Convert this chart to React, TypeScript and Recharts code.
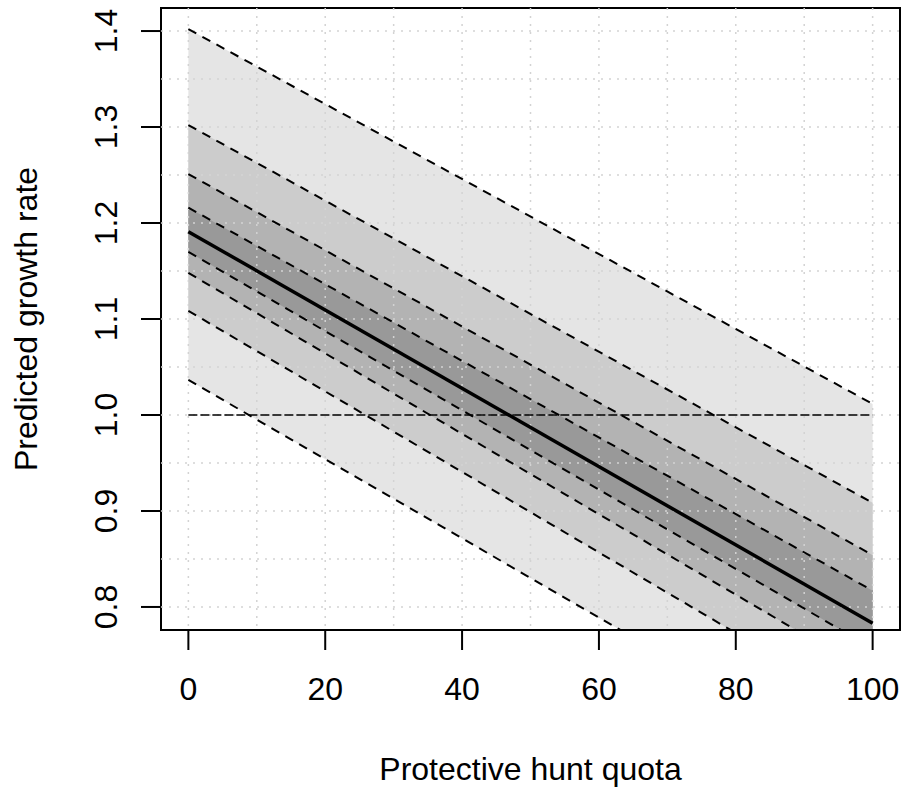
import {
  ComposedChart, Area, Line, XAxis, YAxis, CartesianGrid,
  ReferenceLine, ReferenceArea,
} from 'recharts'

// protective hunt quota (x) and predicted growth rate (y)
const quota = [0, 100]
const fit = [1.191, 0.783]

// interval bands, innermost (darkest) to outermost (lightest)
const darkLo = [1.170, 0.757]
const darkHi = [1.216, 0.817]
const midLo = [1.148, 0.729]
const midHi = [1.251, 0.854]
const lightLo = [1.1085, 0.689]
const lightHi = [1.302, 0.9085]
const outerLo = [1.0365, 0.624]
const outerHi = [1.402, 1.0115]

const xTicks = [0, 20, 40, 60, 80, 100]
const yTicks = [0.8, 0.9, 1.0, 1.1, 1.2, 1.3, 1.4]
const gridX = [0, 10, 20, 30, 40, 50, 60, 70, 80, 90, 100]
const gridY = [0.8, 0.85, 0.9, 0.95, 1.0, 1.05, 1.1, 1.15, 1.2, 1.25, 1.3, 1.35, 1.4]

const rows = quota.map((q, i) => ({
  quota: q,
  fit: fit[i],
  darkLo: darkLo[i], darkHi: darkHi[i],
  midLo: midLo[i], midHi: midHi[i],
  lightLo: lightLo[i], lightHi: lightHi[i],
  outerLo: outerLo[i], outerHi: outerHi[i],
  dark: [darkLo[i], darkHi[i]],
  mid: [midLo[i], midHi[i]],
  light: [lightLo[i], lightHi[i]],
  outer: [outerLo[i], outerHi[i]],
}))

// R style 4% padding on both axes
const xDomain = [-4, 104]
const yDomain = [0.8 - 0.024, 1.4 + 0.024]

const FONT = '"Liberation Sans", Arial, Helvetica, sans-serif'
const dash = '9 7'
const edgeKeys = ['outerHi', 'lightHi', 'midHi', 'darkHi', 'darkLo', 'midLo', 'lightLo', 'outerLo']

function YTick({ y, payload }: { y?: number; payload?: { value: number } }) {
  const bx = 117
  return (
    <text
      x={bx} y={y} transform={`rotate(-90 ${bx} ${y})`}
      textAnchor="middle" fontSize={32} fontFamily={FONT} fill="#000"
    >
      {payload!.value.toFixed(1)}
    </text>
  )
}

export default function App() {
  return (
    <div style={{ position: 'absolute', left: 0, top: 0, background: '#fff' }}>
      <ComposedChart
        width={903} height={787} data={rows}
        margin={{ top: 8, right: 3, bottom: 0, left: 0 }}
      >
        <XAxis
          type="number" dataKey="quota" domain={xDomain} ticks={xTicks}
          allowDataOverflow height={157}
          axisLine={false} tickSize={20} tickMargin={27}
          tickLine={{ stroke: '#000', strokeWidth: 2 }}
          tick={{ fill: '#000', fontSize: 32, fontFamily: FONT }}
          label={{
            content: () => (
              <text x={530.5} y={780} textAnchor="middle" fontSize={32} fontFamily={FONT} fill="#000">
                Protective hunt quota
              </text>
            ),
          }}
        />
        <YAxis
          type="number" domain={yDomain} ticks={yTicks}
          allowDataOverflow width={161}
          axisLine={false} tickSize={20}
          tickLine={{ stroke: '#000', strokeWidth: 2 }}
          tick={<YTick />}
          label={{
            content: () => (
              <text
                x={37} y={319} transform="rotate(-90 37 319)"
                textAnchor="middle" fontSize={32} fontFamily={FONT} fill="#000"
              >
                Predicted growth rate
              </text>
            ),
          }}
        />

        <Area type="linear" dataKey="outer" fill="#e5e5e5" fillOpacity={1} stroke="none" isAnimationActive={false} />
        <Area type="linear" dataKey="light" fill="#cccccc" fillOpacity={1} stroke="none" isAnimationActive={false} />
        <Area type="linear" dataKey="mid" fill="#b3b3b3" fillOpacity={1} stroke="none" isAnimationActive={false} />
        <Area type="linear" dataKey="dark" fill="#999999" fillOpacity={1} stroke="none" isAnimationActive={false} />

        <CartesianGrid
          verticalValues={gridX} horizontalValues={gridY}
          stroke="#d3d3d3" strokeDasharray="2 6" strokeWidth={1.5}
          zIndex={150}
        />

        <ReferenceLine
          segment={[{ x: 0, y: 1 }, { x: 100, y: 1 }]}
          stroke="#000" strokeWidth={1.6} strokeDasharray="9 3"
        />

        {edgeKeys.map((k) => (
          <Line
            key={k} type="linear" dataKey={k}
            stroke="#000" strokeWidth={2} strokeDasharray={dash}
            dot={false} activeDot={false} isAnimationActive={false}
          />
        ))}
        <Line
          type="linear" dataKey="fit" stroke="#000" strokeWidth={3.5}
          dot={false} activeDot={false} isAnimationActive={false}
        />

        <ReferenceArea
          x1={xDomain[0]} x2={xDomain[1]} y1={yDomain[0]} y2={yDomain[1]}
          fill="none" stroke="#000" strokeWidth={2} ifOverflow="visible"
        />
      </ComposedChart>
    </div>
  )
}
